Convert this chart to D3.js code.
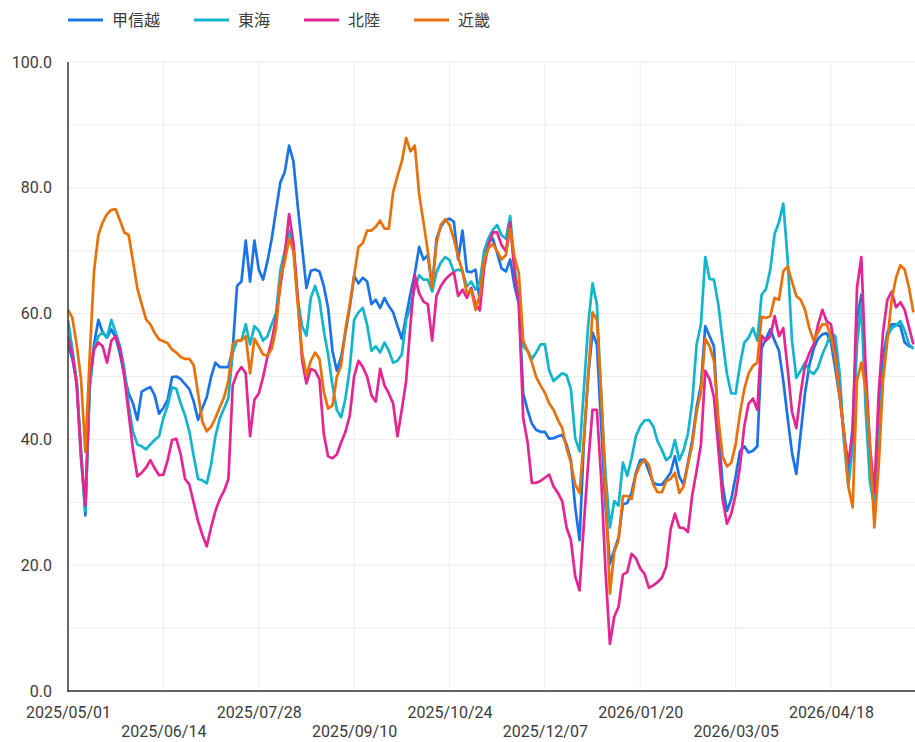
<!DOCTYPE html>
<html>
<head>
<meta charset="utf-8">
<script src="https://cdn.jsdelivr.net/npm/d3@7"></script>
<style>
  html, body { margin: 0; padding: 0; background: #fff; }
  svg text { font-family: Roboto, "Noto Sans CJK JP", sans-serif; }
</style>
</head>
<body>
<div class="chart"></div>
<script>
// daily index, sampled every 2 days from 2025/05/01
const startDate = new Date(2025, 4, 1)
const endDate = new Date(2026, 4, 27)
const stepDays = 2

const seriesNames = ["甲信越", "東海", "北陸", "近畿"]
const seriesColors = ["#1A73E8", "#12B5CB", "#E52592", "#E8710A"]

const koshinetsu = [
  55.1, 52.8, 49.2, 38.3, 27.9, 48.6, 55.1, 59, 57, 56.2,
  57.5, 56.2, 53.5, 50.2, 47.3, 45.7, 43.1, 47.6, 48, 48.3,
  47, 44.1, 45, 46.3, 49.9, 50, 49.6, 48.8, 48, 46,
  43.1, 45, 46.7, 49.9, 52.2, 51.5, 51.5, 51.5, 54.4, 64.4,
  65.1, 71.6, 65.1, 71.6, 67, 65.4, 68.3, 71.9, 76.5, 80.9,
  82.5, 86.7, 84.2, 77.1, 70.6, 64.1, 66.8, 67, 66.7, 64.4,
  60.9, 54.1, 50.9, 53.1, 57, 61, 66, 64.8, 65.7, 65.1,
  61.5, 62.2, 60.9, 62.5, 61.2, 60.2, 58, 56, 59.6, 63.2,
  66.4, 70.6, 68.6, 69.3, 64.1, 71.9, 73.8, 74.8, 75.1, 74.6,
  68.6, 73.2, 66.7, 66.6, 67, 62, 69.5, 71.4, 71.9, 69.6,
  67.2, 66.7, 68.6, 64.4, 61.5, 47.3, 44.7, 42.5, 41.5, 41.2,
  41.2, 40.1, 40.2, 40.5, 40.7, 39.2, 36.7, 29.2, 24, 39.6,
  50.2, 57, 55.1, 42.1, 29.2, 20.2, 22.4, 24.4, 29.7, 29.9,
  31.5, 34.7, 36.7, 36.8, 34.9, 33.1, 32.8, 32.8, 33.7, 34.7,
  37.3, 34.1, 32.8, 36.3, 39.9, 45.1, 48.6, 58, 56.4, 54.8,
  42.1, 32.8, 28.6, 30.5, 34.1, 38.1, 38.9, 37.9, 38.2, 38.9,
  54.5, 56, 57.5, 55.7, 54.1, 49.3, 43.4, 37.9, 34.5, 40.9,
  47.3, 51.8, 54.4, 56, 56.7, 56.9, 55.4, 51.2, 46.7, 41.2,
  34.4, 42.1, 59, 63, 47.3, 34.4, 30.8, 43.4, 53.1, 57,
  58.3, 58.3, 58, 55.4, 54.8, 54.6
]

const tokai = [
  59, 54.4, 49.3, 37, 28.6, 48, 54.4, 56.4, 57, 56.2,
  59, 57, 54.8, 51.2, 45.4, 41.2, 39.2, 38.9, 38.4, 39.2,
  39.9, 40.5, 43.4, 45.4, 48.3, 48, 45.7, 43.8, 41.2, 37.3,
  33.7, 33.5, 33, 36, 40.5, 43.3, 44.9, 46.6, 53.8, 55.7,
  55.7, 58.3, 55.1, 58, 57.3, 55.7, 56.4, 58.3, 60.1, 67,
  69.9, 73.2, 70.6, 62.2, 58, 56.5, 62.5, 64.4, 62.2, 57.3,
  53.5, 48.6, 44.7, 43.5, 46.5, 51.3, 59, 60.2, 60.9, 58.2,
  54.1, 54.8, 53.8, 55.4, 54.1, 52.2, 52.5, 53.5, 59, 61,
  64.1, 66.1, 65.4, 65.4, 63.5, 66.6, 68.1, 69, 68.5, 66.7,
  67, 66.7, 64.3, 65.1, 63.8, 65, 70, 72, 73.3, 74.1,
  72.5, 71.9, 75.5, 67.4, 62.2, 54.8, 54.1, 52.8, 53.8, 55.1,
  55.1, 50.9, 49.3, 49.9, 50.5, 50.2, 48, 40.2, 38.1, 48,
  58.3, 64.8, 61.5, 46.7, 34.4, 26, 30.2, 29.5, 36.3, 34.2,
  37, 40.5, 42.1, 43, 43.1, 42.1, 39.7, 38.3, 36.7, 37.3,
  39.9, 36.7, 38.3, 40.9, 46, 55.1, 58.3, 69, 65.5, 65.4,
  61.5, 55.7, 50.4, 47.3, 47.3, 51.8, 55.4, 56.2, 57.7, 55.7,
  63, 63.9, 67, 72.7, 74.5, 77.5, 68.6, 55.7, 49.8, 50.9,
  52.2, 50.9, 50.4, 51.4, 53.5, 55.1, 57, 56.4, 50.5, 39.6,
  32.5, 38.9, 55.1, 61.5, 44.7, 33.1, 29.2, 38.9, 50.5, 56.4,
  57.7, 58.1, 58.8, 57.3, 55.1, 54.4
]

const hokuriku = [
  56.4, 53.5, 48.6, 37.3, 29.5, 49.9, 54.3, 55.4, 54.8, 52.2,
  55.7, 56.4, 54.4, 49.9, 44.1, 38.3, 34.1, 34.7, 35.5, 36.7,
  35.4, 34.3, 34.4, 36.7, 39.9, 40.1, 37.6, 33.7, 32.8, 29.9,
  27, 24.8, 23, 26, 28.6, 30.5, 31.8, 33.7, 48.6, 50.5,
  51.5, 50.5, 40.5, 46.3, 47.3, 49.9, 53.1, 55.7, 59.3, 64.4,
  69.3, 75.8, 71.2, 62.5, 52.5, 48.9, 51.2, 50.9, 49.6, 40.9,
  37.3, 37, 37.6, 39.5, 41.2, 43.8, 50, 52.5, 51.5, 50,
  47, 46, 51.2, 48.6, 47.3, 45.7, 40.5, 44.7, 49.3, 58.3,
  66.1, 63.2, 61.9, 61.5, 55.7, 62.8, 64.4, 65.4, 66.1, 66.6,
  62.8, 63.8, 62.5, 64.1, 61.5, 60.5, 67.4, 71, 72.9, 72.9,
  70.9, 69.9, 74.5, 66.4, 61.5, 43.4, 39.6, 33.1, 33.1, 33.4,
  33.9, 34.4, 32.5, 31.5, 30.2, 26, 24, 18.2, 16, 26.6,
  36.3, 44.7, 44.7, 33.7, 18.9, 7.5, 11.8, 13.4, 18.5, 18.9,
  21.8, 21.1, 19.5, 18.6, 16.4, 16.8, 17.3, 18, 19.8, 25.7,
  28.2, 26, 25.9, 25.3, 31.2, 35, 39.2, 50.9, 49.6, 46.7,
  38.6, 30.5, 26.6, 28.2, 31.2, 35.7, 42.1, 45.7, 46.5, 44.7,
  56.5, 55.7, 56.4, 59.6, 56.4, 57.7, 51.2, 44.4, 41.8, 47.3,
  51.8, 53.7, 55.1, 58.2, 60.6, 58.8, 58.3, 53.5, 47.3, 40.5,
  36.3, 40.9, 64.1, 69, 51.2, 38.9, 31.5, 47.3, 57, 62.2,
  63.5, 61, 61.8, 60.6, 57.8, 55.1
]

const kinki = [
  60.6, 59.3, 55.1, 49.6, 38, 53.1, 66.7, 72.5, 74.5, 75.8,
  76.5, 76.6, 74.8, 72.9, 72.5, 68.3, 64, 61.5, 59.1, 58.3,
  56.9, 55.9, 55.6, 55.3, 54.3, 53.8, 53.1, 52.8, 52.8, 51.8,
  47.3, 42.8, 41.3, 42, 43.4, 45.1, 46.7, 49.3, 55.1, 55.7,
  55.7, 56.4, 50.5, 56, 54.8, 53.5, 53.3, 54.4, 57.7, 65.7,
  68.3, 71.9, 69.9, 61.5, 53.8, 50.2, 52.5, 53.8, 52.8, 47.6,
  44.9, 45.4, 49.9, 51.8, 57.5, 61.5, 66, 70.6, 71.2, 73.2,
  73.2, 73.8, 74.8, 73.5, 73.5, 79.3, 81.9, 84.2, 87.9, 85.8,
  86.7, 79, 74.5, 69.9, 64.1, 71.2, 74.1, 75, 74.1, 71.9,
  69, 66.7, 63.2, 63.8, 60.6, 63, 68.5, 70.4, 71.1, 69.9,
  68.6, 69.3, 73.5, 69, 66.4, 55.7, 54.1, 52.2, 49.9, 48.6,
  47.4, 45.7, 44.7, 43.1, 41.8, 38.6, 36.3, 32.8, 31.5, 40.2,
  50.2, 60.2, 59, 47.3, 31.8, 15.5, 22.1, 24, 31, 31,
  30.5, 34.4, 36, 36.8, 36, 32.8, 31.6, 31.6, 33.4, 33.7,
  34.7, 31.5, 32.5, 36, 39.2, 44.4, 47.6, 56, 54.8, 52.5,
  43.4, 37.3, 35.7, 36.3, 39.2, 44.1, 48, 50.5, 51.7, 52.2,
  59.5, 59.3, 59.6, 62.5, 62.2, 66.7, 67.5, 65.1, 62.8, 62.2,
  60.6, 57.7, 55.7, 57, 58.3, 58.3, 56.4, 52.8, 47, 40.9,
  32.5, 29.2, 49.3, 52.2, 48, 38.9, 26, 35.7, 49.3, 55.7,
  62.2, 65.7, 67.7, 67, 64.1, 60.2
]

const tickLabels = ["2025/05/01", "2025/06/14", "2025/07/28", "2025/09/10", "2025/10/24",
  "2025/12/07", "2026/01/20", "2026/03/05", "2026/04/18"]
const yTickValues = [0, 20, 40, 60, 80, 100]
const yGridValues = [0, 10, 20, 30, 40, 50, 60, 70, 80, 90, 100]

const width = 915
const height = 742
const margin = { top: 62, right: 0, bottom: 51, left: 68 }
const graphHeight = height - margin.top - margin.bottom

const dates = d3.timeDay.range(startDate, endDate, stepDays)
const parseTick = d3.timeParse("%Y/%m/%d")
const allSeries = [koshinetsu, tokai, hokuriku, kinki]

const svg = d3.select(".chart").append("svg")
  .attr("width", width)
  .attr("height", height)

const xScale = d3.scaleTime()
  .domain([startDate, endDate])
  .range([margin.left, margin.left + 391 * 2.1676])

const yScale = d3.scaleLinear()
  .domain([0, 100])
  .range([margin.top + graphHeight, margin.top])

svg.append("defs").append("clipPath").attr("id", "plotClip")
  .append("rect")
  .attr("x", margin.left)
  .attr("y", 0)
  .attr("width", width - margin.left)
  .attr("height", margin.top + graphHeight)

// grid
const grid = svg.append("g")
grid.selectAll(".hgrid").data(yGridValues).enter().append("line")
  .attr("x1", margin.left).attr("x2", width)
  .attr("y1", d => yScale(d)).attr("y2", d => yScale(d))
  .attr("stroke", "#ececec").attr("stroke-width", 1)
grid.selectAll(".vgrid").data(tickLabels.slice(1)).enter().append("line")
  .attr("x1", d => xScale(parseTick(d))).attr("x2", d => xScale(parseTick(d)))
  .attr("y1", margin.top).attr("y2", margin.top + graphHeight)
  .attr("stroke", "#ececec").attr("stroke-width", 1)

// lines
const line = d3.line()
  .x((d, i) => xScale(dates[i]))
  .y(d => yScale(d))

svg.append("g").attr("clip-path", "url(#plotClip)")
  .selectAll("path").data(allSeries).enter().append("path")
  .attr("d", line)
  .attr("fill", "none")
  .attr("stroke", (d, i) => seriesColors[i])
  .attr("stroke-width", 2.7)
  .attr("stroke-linejoin", "round")

// axes
const yAxis = d3.axisLeft(yScale)
  .tickValues(yTickValues)
  .tickFormat(d3.format(".1f"))
  .tickSize(0)
  .tickPadding(16)
const yAxisGroup = svg.append("g").attr("transform", `translate(${margin.left},0)`).call(yAxis)
yAxisGroup.select(".domain").remove()

const xAxis = d3.axisBottom(xScale)
  .tickValues(tickLabels.map(parseTick))
  .tickFormat(d3.timeFormat("%Y/%m/%d"))
  .tickSize(0)
const xAxisGroup = svg.append("g").attr("transform", `translate(0,${margin.top + graphHeight})`).call(xAxis)
xAxisGroup.select(".domain").remove()
xAxisGroup.selectAll(".tick text").attr("dy", null).attr("y", (d, i) => (i % 2 === 0 ? 27 : 46))

svg.selectAll(".tick text")
  .attr("font-size", 16)
  .attr("fill", "#3c3c3c")
  .style("font-family", "Roboto, sans-serif")

svg.append("line")
  .attr("x1", margin.left).attr("x2", margin.left)
  .attr("y1", margin.top).attr("y2", margin.top + graphHeight + 1)
  .attr("stroke", "#333").attr("stroke-width", 1.5)
svg.append("line")
  .attr("x1", margin.left).attr("x2", width)
  .attr("y1", margin.top + graphHeight).attr("y2", margin.top + graphHeight)
  .attr("stroke", "#333").attr("stroke-width", 1.5)

// legend
const legend = svg.append("g").attr("transform", "translate(68,20)")
let legendX = 0
seriesNames.forEach((name, i) => {
  const item = legend.append("g").attr("transform", `translate(${legendX},0)`)
  item.append("line")
    .attr("x1", 0).attr("x2", 35)
    .attr("y1", 0).attr("y2", 0)
    .attr("stroke", seriesColors[i]).attr("stroke-width", 3)
  const label = item.append("text")
    .attr("x", 44).attr("y", 0).attr("dy", "0.35em")
    .attr("font-size", 16).attr("fill", "#3c3c3c")
    .text(name)
  legendX += 44 + label.node().getComputedTextLength() + 34
})
</script>
</body>
</html>
